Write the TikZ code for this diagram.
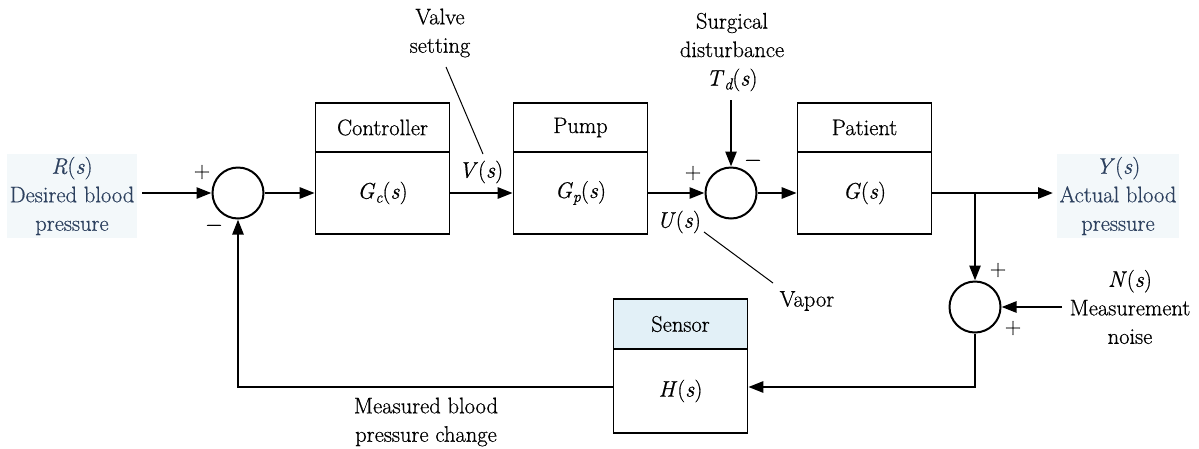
\documentclass[tikz,border=0pt]{standalone}
\usepackage{fontspec}
\setmainfont{Latin Modern Roman}[UprightFeatures={FakeBold=0.6}, ItalicFeatures={FakeBold=0.6}]
\usetikzlibrary{arrows.meta,calc}
\definecolor{lbltxt}{RGB}{45,65,95}
\definecolor{lblbg}{RGB}{243,248,250}
\definecolor{sensbg}{RGB}{226,240,247}
\newcommand\dsub[1]{\raisebox{-0.4ex}{\fontsize{16}{16}\selectfont\itshape #1}}
\newcommand\iv[1]{\textit{#1}}
\begin{document}
\begin{tikzpicture}[x=1pt,y=-1pt,
  every node/.style={font=\fontsize{22.5}{28.5}\selectfont, inner sep=0pt},
  sumj/.style={circle, draw, line width=2pt, minimum size=51pt},
  headbox/.style={draw, line width=1.6pt, minimum width=134pt, minimum height=49pt},
  bodybox/.style={draw, line width=1.6pt, minimum width=134pt, minimum height=82pt},
  sig/.style={line width=2.6pt, -{Triangle[length=15pt,width=11pt]}},
  leader/.style={line width=1pt},
  lbl/.style={align=center, text=lbltxt, fill=lblbg, inner sep=3pt},
  txt/.style={align=center}]
\useasboundingbox (0,0) rectangle (1199,448);

% summing junctions
\node[sumj] (s1) at (238,193) {};
\node[sumj] (s2) at (731,193) {};
\node[sumj] (s3) at (975,307) {};

% blocks
\node[headbox] (ch) at (382.5,127.5) {Controller};
\node[bodybox] (cb) at (382.5,193) {\iv{G}\dsub{c}(\iv{s})};
\node[headbox] (ph) at (580.5,127.5) {Pump};
\node[bodybox] (pb) at (580.5,193) {\iv{G}\dsub{p}(\iv{s})};
\node[headbox] (gh) at (864.5,127.5) {Patient};
\node[bodybox] (gb) at (864.5,193) {\iv{G}(\iv{s})};
\node[headbox, fill=sensbg, minimum height=50pt] (sh) at (680.5,324) {Sensor};
\node[bodybox, minimum height=84pt] (sb) at (680.5,391) {\iv{H}(\iv{s})};

% external labels
\node[lbl] (rl) at (72,196) {\iv{R}(\iv{s})\\Desired blood\\pressure};
\node[lbl] (yl) at (1118,196) {\iv{Y}(\iv{s})\\Actual blood\\pressure};
\node[txt] (nl) at (1130,307) {\iv{N}(\iv{s})\\Measurement\\noise};
\node[txt] (vl) at (440,33) {Valve\\setting};
\node[txt] (tl) at (732,52) {Surgical\\disturbance\\\iv{T}\dsub{d}(\iv{s})};
\node[txt] (ml) at (426,422) {Measured blood\\pressure change};
\node[txt] (vp) at (807,301) {Vapor};
\node (vs) at (481,172) {\iv{V}(\iv{s})};
\node (us) at (679,222) {\iv{U}(\iv{s})};

% signs
\node (p1) at (202,172) {+};
\node (m1) at (214,228) {−};
\node (p2) at (693,173) {+};
\node (m2) at (753,163) {−};
\node (p3) at (998,270) {+};
\node (p4) at (1013,328) {+};

% coordinates
\coordinate (rin) at (142,193);
\coordinate (yout) at (1053,193);
\coordinate (br) at (975,193);
\coordinate (tdin) at (731,100);
\coordinate (nin) at (1062,307);
\coordinate (fbr) at (975,387);
\coordinate (fbl) at (238,387);
\coordinate (va) at (446,67);
\coordinate (vb) at (483,154);
\coordinate (ua) at (704,232);
\coordinate (ub) at (773,283);

% connectors
\draw[sig] (rin) -- (s1.west);
\draw[sig] (s1.east) -- (cb.west);
\draw[sig] (cb.east) -- (pb.west);
\draw[sig] (pb.east) -- (s2.west);
\draw[sig] (tdin) -- (s2.north);
\draw[sig] (s2.east) -- (gb.west);
\draw[sig] (gb.east) -- (yout);
\draw[sig] (br) -- (s3.north);
\draw[sig] (nin) -- (s3.east);
\draw[sig] (s3.south) -- (fbr) -- (sb.east |- fbr);
\draw[sig] (sb.west |- fbl) -- (fbl) -- (s1.south);

% leader lines
\draw[leader] (va) -- (vb);
\draw[leader] (ua) -- (ub);
\end{tikzpicture}
\end{document}
